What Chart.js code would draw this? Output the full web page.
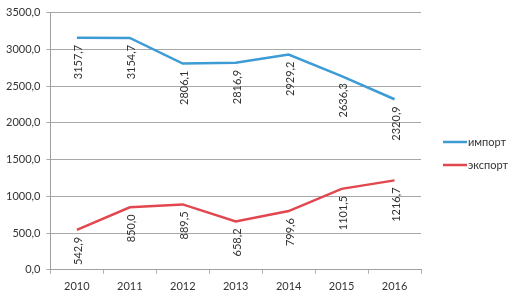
<!DOCTYPE html>
<html>
<head>
<meta charset="utf-8">
<script src="https://cdn.jsdelivr.net/npm/chart.js@4"></script>
<style>
  html, body { margin: 0; padding: 0; background: #fff; }
  #wrap { position: relative; width: 523px; height: 303px; }
</style>
</head>
<body>
<div id="wrap"><canvas id="chart" width="523" height="303"></canvas></div>
<script>
const years = ["2010", "2011", "2012", "2013", "2014", "2015", "2016"]
const importValues = [3157.7, 3154.7, 2806.1, 2816.9, 2929.2, 2636.3, 2320.9]
const exportValues = [542.9, 850.0, 889.5, 658.2, 799.6, 1101.5, 1216.7]
const seriesNames = ["импорт", "экспорт"]
const seriesColors = ["#3d9bd6", "#e2474f"]

const FONT = "'Lato', sans-serif"
const fmt = (v) => v.toFixed(1).replace(".", ",")

// rotated value labels under each point
const valueLabels = {
  id: "valueLabels",
  afterDatasetsDraw(chart) {
    const ctx = chart.ctx
    ctx.save()
    ctx.font = "11px " + FONT
    ctx.fillStyle = "#333"
    ctx.textAlign = "right"
    ctx.textBaseline = "middle"
    chart.data.datasets.forEach((ds, i) => {
      chart.getDatasetMeta(i).data.forEach((pt, j) => {
        ctx.save()
        ctx.translate(pt.x + 2, pt.y + 7)
        ctx.rotate(-Math.PI / 2)
        ctx.fillText(fmt(ds.data[j]), 0, 0)
        ctx.restore()
      })
    })
    ctx.restore()
  },
}

// legend drawn at the right side
const sideLegend = {
  id: "sideLegend",
  afterDraw(chart) {
    const ctx = chart.ctx
    const rows = [142, 165]
    ctx.save()
    ctx.font = "11px " + FONT
    ctx.textBaseline = "middle"
    ctx.textAlign = "left"
    seriesNames.forEach((name, i) => {
      ctx.strokeStyle = seriesColors[i]
      ctx.lineWidth = 2.5
      ctx.beginPath()
      ctx.moveTo(443, rows[i])
      ctx.lineTo(467, rows[i])
      ctx.stroke()
      ctx.fillStyle = "#333"
      ctx.fillText(name, 468, rows[i])
    })
    ctx.restore()
  },
}

new Chart(document.getElementById("chart"), {
  type: "line",
  data: {
    labels: years,
    datasets: [
      {
        label: seriesNames[0],
        data: importValues,
        borderColor: seriesColors[0],
        borderWidth: 2.5,
        pointRadius: 0,
        tension: 0,
      },
      {
        label: seriesNames[1],
        data: exportValues,
        borderColor: seriesColors[1],
        borderWidth: 2.5,
        pointRadius: 0,
        tension: 0,
      },
    ],
  },
  options: {
    responsive: false,
    animation: false,
    layout: { padding: { top: 7.5, right: 102, left: 0, bottom: 4 } },
    plugins: {
      legend: { display: false },
      tooltip: { enabled: false },
    },
    scales: {
      x: {
        offset: true,
        grid: {
          display: true,
          drawOnChartArea: false,
          offset: true,
          tickLength: 4,
          color: "#b0b0b0",
        },
        border: { color: "#a0a0a0" },
        ticks: { color: "#333", font: { family: FONT, size: 11 }, padding: 6 },
      },
      y: {
        min: 0,
        max: 3500,
        ticks: {
          stepSize: 500,
          color: "#333",
          font: { family: FONT, size: 11 },
          callback: (v) => fmt(v),
          padding: 6,
        },
        grid: { color: "#a8a8a8", tickLength: 4 },
        border: { color: "#a0a0a0" },
      },
    },
  },
  plugins: [valueLabels, sideLegend],
})
</script>
</body>
</html>
